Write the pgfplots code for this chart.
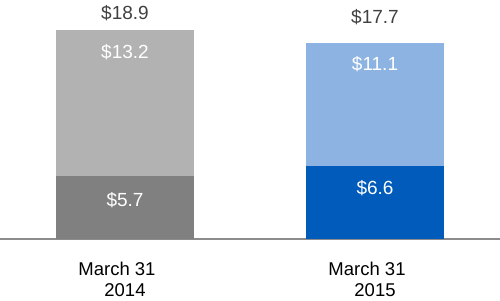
\documentclass[border=0pt]{standalone}
\usepackage{pgfplots}
\pgfplotsset{compat=1.18}
\usepackage{fontspec}
\setmainfont{Liberation Sans}
\definecolor{lgray}{HTML}{B2B2B2}
\definecolor{dgray}{HTML}{808080}
\definecolor{lblue}{HTML}{8DB3E2}
\definecolor{dblue}{HTML}{005BBB}
\definecolor{axgray}{HTML}{8C8C8C}
\definecolor{txt}{HTML}{404040}
\begin{document}
\begin{tikzpicture}
\useasboundingbox (0,-61pt) rectangle (500pt,239pt);
\begin{axis}[
  at={(0,0)}, anchor=south west,
  scale only axis, width=500pt, height=239pt,
  xmin=-0.5, xmax=1.5, ymin=0, ymax=21.57,
  axis y line=none, axis x line=bottom,
  x axis line style={-, draw=axgray, line width=2pt},
  xtick={0,1},
  xticklabels={{March 31\hspace*{16pt}\\2014},{March 31\hspace*{16pt}\\2015}},
  xticklabel style={anchor=north, inner sep=0pt, yshift=-23pt, align=center,
     font=\fontsize{18.5}{21}\selectfont, text=black},
  major tick length=0pt,
  ybar, bar width=138.5pt, bar shift=0pt,
  clip=false,
  /pgf/number format/assume math mode=true,
  /pgf/number format/.cd, fixed, fixed zerofill, precision=1,
]
% bar 1 top (total height), label = top segment
\addplot[fill=lgray, draw=none, point meta=explicit,
  nodes near coords={\$\pgfmathprintnumber{\pgfplotspointmeta}},
  every node near coord/.style={anchor=north, inner sep=0pt, yshift=-15pt, text=white, font=\fontsize{19}{21}\selectfont}]
  coordinates {(0,18.9) [13.2]};
\addplot[fill=dgray, draw=none, point meta=explicit,
  nodes near coords={\$\pgfmathprintnumber{\pgfplotspointmeta}},
  every node near coord/.style={anchor=north, inner sep=0pt, yshift=-16pt, text=white, font=\fontsize{19}{21}\selectfont}]
  coordinates {(0,5.7) [5.7]};
\addplot[fill=lblue, draw=none, point meta=explicit,
  nodes near coords={\$\pgfmathprintnumber{\pgfplotspointmeta}},
  every node near coord/.style={anchor=north, inner sep=0pt, yshift=-13pt, text=white, font=\fontsize{19}{21}\selectfont}]
  coordinates {(1,17.7) [11.1]};
\addplot[fill=dblue, draw=none, point meta=explicit,
  nodes near coords={\$\pgfmathprintnumber{\pgfplotspointmeta}},
  every node near coord/.style={anchor=north, inner sep=0pt, yshift=-14pt, text=white, font=\fontsize{19}{21}\selectfont}]
  coordinates {(1,6.6) [6.6]};
% totals
\addplot[draw=none, fill=none, point meta=explicit,
  nodes near coords={\$\pgfmathprintnumber{\pgfplotspointmeta}},
  every node near coord/.style={anchor=base, inner sep=0pt, yshift=10pt, text=txt, font=\fontsize{19}{21}\selectfont}]
  coordinates {(0,18.9) [18.9]};
\addplot[draw=none, fill=none, point meta=explicit,
  nodes near coords={\$\pgfmathprintnumber{\pgfplotspointmeta}},
  every node near coord/.style={anchor=base, inner sep=0pt, yshift=19pt, text=txt, font=\fontsize{19}{21}\selectfont}]
  coordinates {(1,17.7) [17.7]};
\end{axis}
\end{tikzpicture}
\end{document}
